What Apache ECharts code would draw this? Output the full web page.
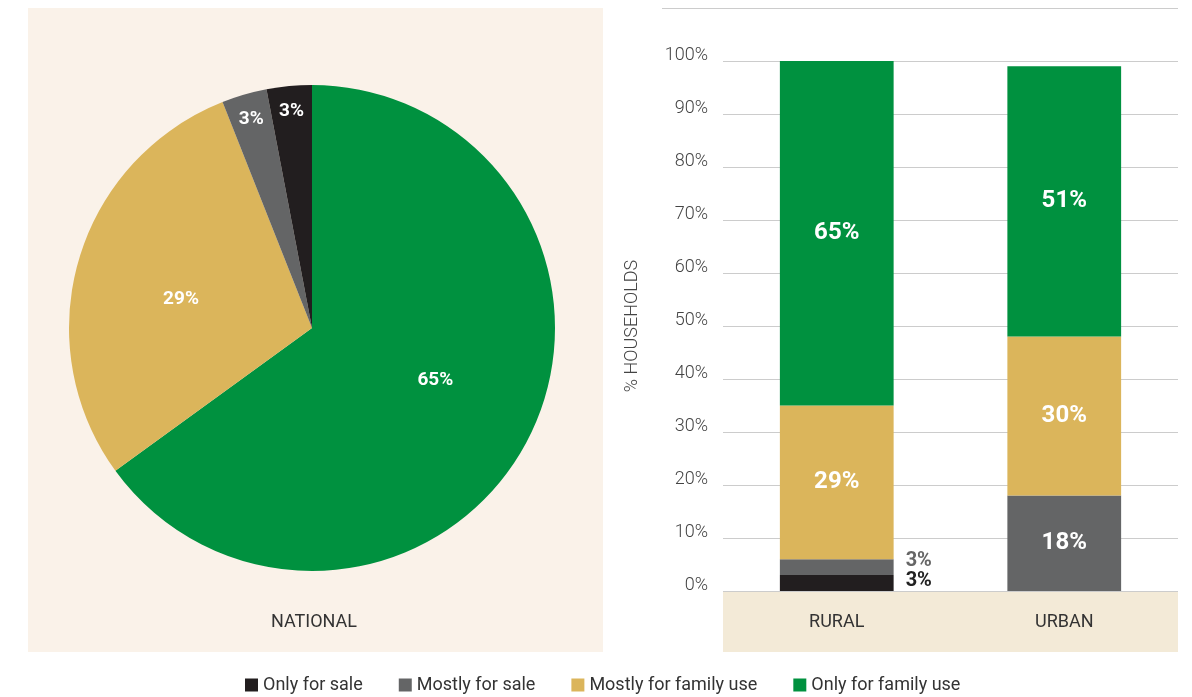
<!DOCTYPE html>
<html>
<head>
<meta charset="utf-8">
<title>Household production use</title>
<script src="https://cdn.jsdelivr.net/npm/echarts@6/dist/echarts.min.js"></script>
<style>
  html, body { margin: 0; padding: 0; background: #ffffff; }
  #chart { width: 1192px; height: 697px; }
</style>
</head>
<body>
<div id="chart"></div>
<script>
// Categories and shares (% of households)
const useTypes = ['Only for sale', 'Mostly for sale', 'Mostly for family use', 'Only for family use'];
const typeColors = ['#221e1f', '#646566', '#dbb55b', '#00913f'];

// National split, same order as useTypes
const nationalShares = [3, 3, 29, 65];

// Rural / urban split
const areaCategories = ['RURAL', 'URBAN'];
const onlyForSale = [3, 0];
const mostlyForSale = [3, 18];
const mostlyForFamily = [29, 30];
const onlyForFamily = [65, 51];

const yTicks = { min: 0, max: 100, interval: 10 };

const chart = echarts.init(document.getElementById('chart'));
const FONT = 'Roboto, "Noto Sans", sans-serif';

// Pie slices run clockwise from 12 o'clock: family use first, then sale
const pieOrder = [3, 2, 1, 0];
const pieData = pieOrder.map(i => ({
  name: useTypes[i],
  value: nationalShares[i],
  itemStyle: { color: typeColors[i] }
}));
const bigSlice = v => v >= 10;

function labelData(showFn) {
  return pieOrder.map(i => ({
    name: useTypes[i],
    value: nationalShares[i],
    label: { show: showFn(nationalShares[i]) }
  }));
}

const pieCenter = [312, 328];
const pieRadius = 243;

const whiteBig = {
  color: '#ffffff', fontFamily: FONT, fontWeight: 'bold', fontSize: 24
};
const pieLabel = {
  position: 'inside', formatter: '{c}%', color: '#ffffff',
  fontWeight: 'bold', fontSize: 19, fontFamily: FONT
};

function barSeries(idx, values, labelFor) {
  return {
    name: useTypes[idx],
    type: 'bar',
    stack: 'share',
    barWidth: '50%',
    itemStyle: { color: typeColors[idx] },
    data: values.map((v, j) => ({ value: v, label: labelFor(v, j) })),
    emphasis: { disabled: true }
  };
}

const insideLabel = v => Object.assign({
  show: v > 0, position: 'inside', formatter: '{c}%'
}, whiteBig);

const option = {
  animation: false,
  textStyle: { fontFamily: FONT },
  graphic: [
    { type: 'rect', z: -10, shape: { x: 28, y: 8, width: 575, height: 644 }, style: { fill: '#faf2e9' } },
    { type: 'rect', z: -10, shape: { x: 723, y: 591, width: 455, height: 61 }, style: { fill: '#f3ead7' } },
    { type: 'line', z: -10, shape: { x1: 662, y1: 8.5, x2: 1178, y2: 8.5 }, style: { stroke: '#cccccc', lineWidth: 1 } },
    { type: 'text', x: 314, y: 622, style: { text: 'NATIONAL', fill: '#333333', font: '18px ' + FONT, textAlign: 'center', textVerticalAlign: 'middle' } }
  ],
  legend: {
    data: useTypes,
    top: 671,
    left: 240,
    icon: 'rect',
    itemWidth: 13,
    itemHeight: 13,
    itemGap: 36,
    textStyle: { color: '#333333', fontSize: 18, fontFamily: FONT },
    selectedMode: false
  },
  grid: { left: 723, right: 14, top: 61, bottom: 106 },
  xAxis: {
    type: 'category',
    data: areaCategories,
    axisLine: { show: false },
    axisTick: { show: false },
    axisLabel: { color: '#333333', fontSize: 18, fontFamily: FONT, margin: 22 }
  },
  yAxis: {
    type: 'value',
    min: yTicks.min,
    max: yTicks.max,
    interval: yTicks.interval,
    name: '% HOUSEHOLDS',
    nameLocation: 'middle',
    nameGap: 82,
    nameTextStyle: { color: '#444444', fontSize: 18, fontWeight: 300, fontFamily: FONT },
    axisLine: { show: false },
    axisTick: { show: false },
    splitLine: { lineStyle: { color: '#cccccc', width: 1 } },
    axisLabel: {
      formatter: '{value}%', color: '#444444', fontSize: 18, fontWeight: 300, fontFamily: FONT,
      margin: 15, verticalAlign: 'bottom', lineHeight: 12
    }
  },
  series: [
    barSeries(0, onlyForSale, (v, j) => j === 0
      ? { show: true, position: 'right', distance: 12, offset: [0, -2], formatter: '{c}%', color: '#222222', fontWeight: 'bold', fontSize: 20, fontFamily: FONT }
      : { show: false }),
    barSeries(1, mostlyForSale, (v, j) => j === 0
      ? { show: true, position: 'right', distance: 12, offset: [0, -6], formatter: '{c}%', color: '#666666', fontWeight: 'bold', fontSize: 20, fontFamily: FONT }
      : insideLabel(v)),
    barSeries(2, mostlyForFamily, v => insideLabel(v)),
    barSeries(3, onlyForFamily, v => insideLabel(v)),
    {
      name: 'National',
      type: 'pie',
      center: pieCenter,
      radius: pieRadius,
      startAngle: 90,
      clockwise: true,
      label: { show: false },
      labelLine: { show: false },
      emphasis: { disabled: true },
      data: pieData
    },
    {
      // labels for the large slices
      type: 'pie',
      center: pieCenter,
      radius: [0, 262],
      startAngle: 94,
      silent: true,
      itemStyle: { color: 'rgba(0,0,0,0)' },
      label: pieLabel,
      labelLine: { show: false },
      emphasis: { disabled: true },
      data: labelData(bigSlice)
    },
    {
      // labels for the thin slices, set near the rim
      type: 'pie',
      center: pieCenter,
      radius: [186, pieRadius],
      startAngle: 90,
      silent: true,
      itemStyle: { color: 'rgba(0,0,0,0)' },
      label: pieLabel,
      labelLine: { show: false },
      emphasis: { disabled: true },
      data: labelData(v => !bigSlice(v))
    }
  ]
};

chart.setOption(option);
</script>
</body>
</html>
